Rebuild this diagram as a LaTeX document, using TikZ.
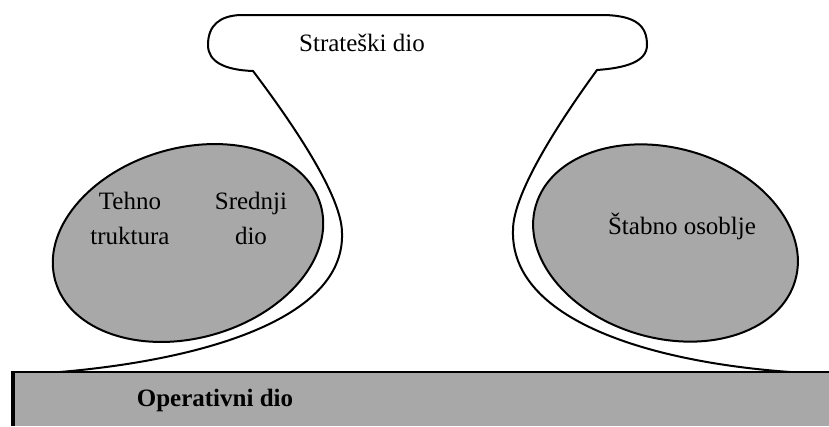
\documentclass[tikz,border=0pt]{standalone}
\usepackage{fontspec}
\setmainfont{Liberation Serif}
\definecolor{basegray}{RGB}{168,168,168}
\tikzset{
  outline/.style={draw=black, line width=2pt, line join=round},
  blob/.style={fill=basegray, draw=black, line width=2pt},
  lbl/.style={inner sep=0pt, align=center, font=\fontsize{25}{35}\selectfont},
  blbl/.style={inner sep=0pt, font=\fontsize{25}{30}\selectfont\bfseries},
}
\begin{document}
\begin{tikzpicture}[x=1pt,y=-1pt]
\useasboundingbox (0,0) rectangle (829,426);
% operative base
\fill[basegray] (13,372) rectangle (829,426);
\draw[black, line width=2pt] (829,372) -- (13,372);
\draw[black, line width=4pt] (13,371) -- (13,426);
% ellipses
\draw[blob, rotate around={16:(188,243)}] (188,243) ellipse [x radius=138, y radius=95];
\draw[blob, rotate around={-16:(665.5,243)}] (665.5,243) ellipse [x radius=135, y radius=95];
% outline of strategic apex and middle line
\draw[outline] (60,372) .. controls (200,360) and (345,320) .. (342,233)
  .. controls (342,195) and (290,120) .. (253,71)
  .. controls (225,70) and (208,62) .. (208,45)
  .. controls (208,25) and (220,16) .. (240,15)
  -- (605,15)
  .. controls (635,16) and (647,25) .. (647,45)
  .. controls (647,62) and (625,68) .. (597,70)
  .. controls (562,118) and (513,192) .. (513,230)
  .. controls (510,320) and (650,362) .. (790,372);
% labels
\node[lbl] (strat) at (362,43) {Strateški dio};
\node[lbl] (tehno) at (130,218) {Tehno\\truktura};
\node[lbl] (sred) at (251,218) {Srednji\\dio};
\node[lbl] (stab) at (682,226) {Štabno osoblje};
\node[blbl] (oper) at (215,400) {Operativni dio};
\end{tikzpicture}
\end{document}
